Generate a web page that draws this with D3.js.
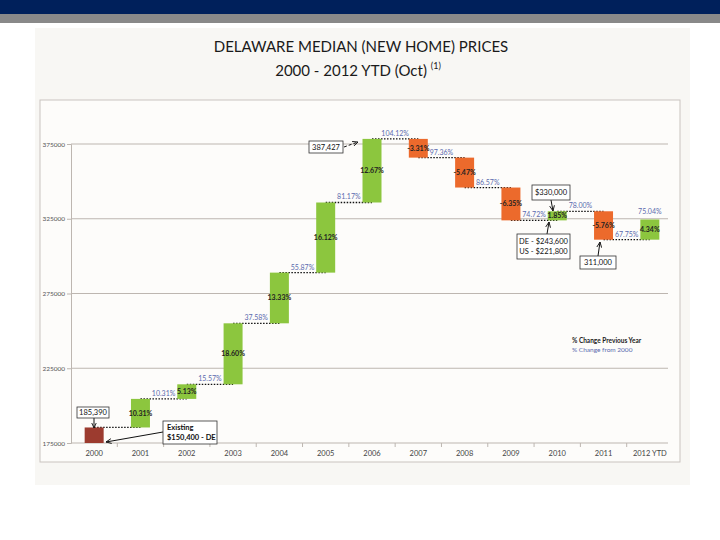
<!DOCTYPE html>
<html><head><meta charset="utf-8">
<script src="https://cdn.jsdelivr.net/npm/d3@7/dist/d3.min.js"></script>
<style>body{margin:0;background:#fff}svg{display:block}</style>
</head><body>
<svg id="c" width="720" height="540"></svg>
<script>
const categories = ["2000","2001","2002","2003","2004","2005","2006","2007","2008","2009","2010","2011","2012 YTD"];
const prices = [185390, 204503, 214255, 255060, 288964, 335870, 378418, 365884, 345880, 323917, 330000, 311000, 324503];
const yearLabels = ["", "10.31%", "5.13%", "18.60%", "13.33%", "16.12%", "12.67%", "-3.31%", "-5.47%", "-6.35%", "1.85%", "-5.76%", "4.34%"];
const cumLabels = ["", "10.31%", "15.57%", "37.58%", "55.87%", "81.17%", "104.12%", "97.36%", "86.57%", "74.72%", "78.00%", "67.75%", "75.04%"];
const yTicks = [175000, 225000, 275000, 325000, 375000];
const baseValue = 175000;

const svg = d3.select("#c");
const font = "Lato, 'Open Sans', sans-serif";

// slide header
svg.append("rect").attr("x",0).attr("y",0).attr("width",720).attr("height",14).attr("fill","#00205b");
svg.append("rect").attr("x",0).attr("y",14).attr("width",720).attr("height",9).attr("fill","#898989");
svg.append("rect").attr("x",35).attr("y",28).attr("width",655).attr("height",457).attr("fill","#f8f7f4");

// title
svg.append("text").attr("x",361).attr("y",52).attr("text-anchor","middle").attr("font-family",font)
  .attr("font-size",15).attr("fill","#1a1a1a").text("DELAWARE MEDIAN (NEW HOME) PRICES");
const t2 = svg.append("text").attr("x",358).attr("y",76).attr("text-anchor","middle").attr("font-family",font)
  .attr("font-size",15).attr("fill","#1a1a1a");
t2.append("tspan").text("2000 - 2012 YTD (Oct) ");
t2.append("tspan").attr("font-size",9).attr("dy",-7).text("(1)");

// chart frame
svg.append("rect").attr("x",40).attr("y",100).attr("width",640).attr("height",362)
  .attr("fill","#fdfcfa").attr("stroke","#c9c4bf").attr("stroke-width",1);

const x = d3.scaleBand().domain(categories).range([71,673]).paddingInner(0.59).paddingOuter(0.295);
const y = d3.scaleLinear().domain([175000,375000]).range([443,144]);
const cx = c => x(c) + x.bandwidth()/2;

// gridlines
const g = svg.append("g");
g.selectAll("line.grid").data(yTicks.slice(1)).join("line")
  .attr("x1",71).attr("x2",668).attr("y1",d=>y(d)).attr("y2",d=>y(d))
  .attr("stroke","#bdb6b0").attr("stroke-width",1);

// y axis
const yAxis = svg.append("g").attr("transform","translate(71,0)")
  .call(d3.axisLeft(y).tickValues(yTicks).tickSize(4).tickFormat(d3.format("d")));
yAxis.select(".domain").attr("stroke","#bdb6b0");
yAxis.selectAll(".tick line").attr("stroke","#bdb6b0");
yAxis.selectAll("text").attr("font-family",font).attr("font-size",6.5).attr("fill","#555").attr("x",-6);

// x axis
const xAxis = svg.append("g").attr("transform","translate(0,443)")
  .call(d3.axisBottom(x).tickSize(0).tickPadding(8));
xAxis.select(".domain").attr("stroke","#bdb6b0").attr("d","M71,0H668");
xAxis.selectAll("text").attr("font-family",font).attr("font-size",7.5).attr("fill","#444");
svg.append("g").selectAll("line").data(categories.slice(1)).join("line")
  .attr("x1",d=>x(d)-x.step()*x.paddingInner()/2).attr("x2",d=>x(d)-x.step()*x.paddingInner()/2)
  .attr("y1",443).attr("y2",447).attr("stroke","#bdb6b0");

// connectors
const conn = svg.append("g");
categories.slice(0,-1).forEach((c,i)=>{
  conn.append("line").attr("x1",cx(c)).attr("x2",cx(categories[i+1]))
    .attr("y1",y(prices[i])).attr("y2",y(prices[i]))
    .attr("stroke","#111").attr("stroke-width",1.3).attr("stroke-dasharray","1.5,1.5");
});

// bars
const bars = svg.append("g");
categories.forEach((c,i)=>{
  const start = i===0 ? baseValue : prices[i-1];
  const end = prices[i];
  const color = i===0 ? "#9c3b2f" : (end>=start ? "#8cc63e" : "#ec6a2c");
  bars.append("rect").attr("x",x(c)).attr("width",x.bandwidth())
    .attr("y",y(Math.max(start,end))).attr("height",Math.abs(y(start)-y(end)))
    .attr("fill",color);
  if(i>0){
    bars.append("text").attr("x",cx(c)).attr("y",(y(start)+y(end))/2+2.5)
      .attr("text-anchor","middle").attr("font-family",font).attr("font-size",7).attr("font-weight","bold")
      .attr("fill","#222").text(yearLabels[i]);
  }
});

// cumulative labels
categories.forEach((c,i)=>{
  if(i===0) return;
  const last = i===categories.length-1;
  const xx = last ? cx(c) : (cx(c)+cx(categories[i+1]))/2;
  const yy = last ? y(prices[i])-5 : y(prices[i])-3;
  svg.append("text").attr("x",xx).attr("y",yy).attr("text-anchor","middle")
    .attr("font-family",font).attr("font-size",7).attr("fill","#5b6aae").text(cumLabels[i]);
});

// annotations
svg.append("defs").append("marker").attr("id","ah").attr("viewBox","0 0 10 10").attr("refX",9).attr("refY",5)
  .attr("markerWidth",6).attr("markerHeight",6).attr("orient","auto")
  .append("path").attr("d","M0,1L9,5L0,9").attr("fill","none").attr("stroke","#111").attr("stroke-width",1.5);
const ann = [
  {lines:["185,390"], box:[77,407,32,11], from:[94,418], to:[94,428]},
  {lines:["Existing","$150,400 - DE"], box:[163,421,54,23], from:[163,432], to:[106,442], bold:true},
  {lines:["387,427"], box:[309,141,34,12], from:[344,147], to:[358,142], dash:true},
  {lines:["$330,000"], box:[532,185,38,15], from:[551,200], to:[553,211]},
  {lines:["DE - $243,600","US - $221,800"], box:[517,234,53,25], from:[547,234], to:[549,222]},
  {lines:["311,000"], box:[580,256,36,13], from:[598,256], to:[600,242]}
];
ann.forEach(a=>{
  svg.append("line").attr("x1",a.from[0]).attr("y1",a.from[1]).attr("x2",a.to[0]).attr("y2",a.to[1])
    .attr("stroke","#111").attr("stroke-width",1).attr("stroke-dasharray",a.dash?"3,2":null)
    .attr("marker-end","url(#ah)");
  const [bx,by,bw,bh] = a.box;
  svg.append("rect").attr("x",bx).attr("y",by).attr("width",bw).attr("height",bh)
    .attr("fill","#fff").attr("stroke","#333").attr("stroke-width",0.8);
  const n = a.lines.length;
  a.lines.forEach((l,k)=>{
    svg.append("text").attr("x", n>1 && a.bold ? bx+4 : bx+bw/2)
      .attr("text-anchor", n>1 && a.bold ? "start" : "middle")
      .attr("y", by + bh/2 + (k-(n-1)/2)*10 + 2.8)
      .attr("font-family",font).attr("font-size",7.5).attr("font-weight",a.bold?"bold":"normal")
      .attr("fill","#111").text(l);
  });
});

// legend
svg.append("text").attr("x",572).attr("y",343).attr("font-family",font).attr("font-size",6.5)
  .attr("font-weight","bold").attr("fill","#222").text("% Change  Previous Year");
svg.append("text").attr("x",572).attr("y",352).attr("font-family",font).attr("font-size",6.5)
  .attr("fill","#5b6aae").text("% Change from 2000");
</script>
</body></html>
